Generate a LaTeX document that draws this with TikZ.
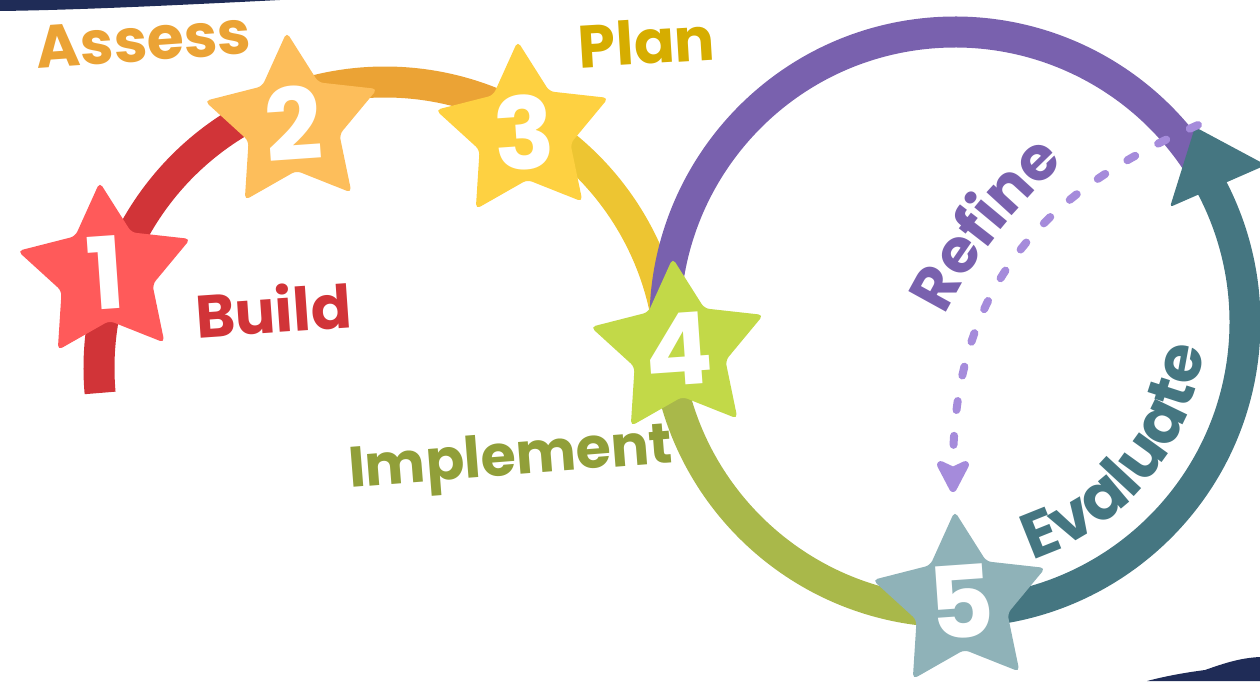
\documentclass[tikz,border=0pt]{standalone}
\usepackage{fontspec}
\setmainfont{Poppins}
\usetikzlibrary{shapes.geometric,arrows.meta,decorations.text,calc}

\definecolor{navy}{HTML}{1F2C57}
\definecolor{buildred}{HTML}{D13438}
\definecolor{assessorange}{HTML}{EBA335}
\definecolor{planyellow}{HTML}{EDC532}
\definecolor{plangold}{HTML}{D6AD00}
\definecolor{implgreen}{HTML}{A9B84A}
\definecolor{implolive}{HTML}{919F39}
\definecolor{refinepurple}{HTML}{7961AE}
\definecolor{refinedash}{HTML}{A58BDB}
\definecolor{evalteal}{HTML}{457681}
\definecolor{starone}{HTML}{FF5A5A}
\definecolor{startwo}{HTML}{FDBE5B}
\definecolor{starthree}{HTML}{FED141}
\definecolor{starfour}{HTML}{C2D948}
\definecolor{starfive}{HTML}{8FB2B8}

\begin{document}
\begin{tikzpicture}[x=1pt,y=1pt,
    ring/.style={line width=31pt},
    starnode/.style={star, star points=5, star point ratio=1.9, minimum size=182pt,
        inner sep=0pt, rounded corners=5pt, rotate=4},
    digit/.style={text=white, font=\fontsize{100}{100}\selectfont\bfseries, rotate=4, inner sep=0pt},
    lbl/.style={font=\fontsize{60}{60}\selectfont\bfseries, anchor=base, inner sep=0pt},
    dashline/.style={line width=8pt, refinedash, line cap=round, dash pattern=on 9pt off 26pt,
        -{Stealth[length=39pt, width=40pt, inset=9pt, round]}}]
    \def\ra{286}
    \def\rb{290}
    \useasboundingbox (0,0) rectangle (1260,681);
    \coordinate (ca) at (385,313);
    \coordinate (cb) at (955,359);

    \fill[navy] (0,681) -- (280,681) .. controls (180,676) and (80,671) .. (0,670) -- cycle;
    \fill[navy] (1147,0) .. controls (1170,6) and (1190,9) .. (1205,11)
        .. controls (1225,18) and (1240,23) .. (1260,24) -- (1260,0) -- cycle;

    \foreach \c/\a/\b in {buildred/185/110, assessorange/110/60, planyellow/60/2} {
        \draw[ring, \c] ($(ca)+(\a:\ra)$) arc[start angle=\a, end angle=\b, radius=\ra];
    }
    \draw[ring, implgreen] ($(cb)+(186:\rb)$) arc[start angle=186, end angle=268, radius=\rb];
    \draw[ring, refinepurple] ($(cb)+(186:\rb)$) arc[start angle=186, end angle=30, radius=\rb];
    \draw[ring, evalteal] ($(cb)+(-92:\rb)$) arc[start angle=-92, end angle=28, radius=\rb];

    \coordinate (tipin) at (1170,474);
    \coordinate (tip) at (1195,554);
    \coordinate (tipout) at (1266,516);
    \fill[evalteal, rounded corners=3pt] (tipin) -- (tip) -- (tipout) -- cycle;

    \coordinate (loopstart) at (1198,556);
    \coordinate (loopend) at (953,189);
    \draw[dashline] (loopstart) .. controls (1060,496) and (953,409) .. (loopend);

    \foreach \n/\x/\y/\c in {1/106/408/starone, 2/293/558/startwo, 3/524/549/starthree,
                             4/679/332/starfour, 5/961/79/starfive} {
        \node[starnode, fill=\c] (s\n) at (\x,\y) {};
        \node[digit] (d\n) at (s\n) {\n};
    }

    \node[lbl, text=assessorange, rotate=4] (assess) at (145,620) {Assess};
    \node[lbl, text=plangold, rotate=3.5] (plan) at (648,617) {Plan};
    \node[lbl, text=buildred, rotate=4] (build) at (275,348) {Build};
    \node[lbl, text=implolive, rotate=4.5, font=\fontsize{57}{57}\selectfont\bfseries] (implement) at (512,206) {Implement};

    \path[decorate, decoration={text along path, text align=center,
        text={|\fontsize{61}{61}\selectfont\bfseries\color{refinepurple}|Refine}}]
        (935,340) .. controls (956,408) and (1031,492) .. (1085,536);
    \path[decorate, decoration={text along path, text align=center,
        text={|\fontsize{64}{64}\selectfont\bfseries\color{evalteal}|Evaluate}}]
        ($(cb)+(-78:250)$) arc[start angle=-78, end angle=0, radius=250];
\end{tikzpicture}
\end{document}
